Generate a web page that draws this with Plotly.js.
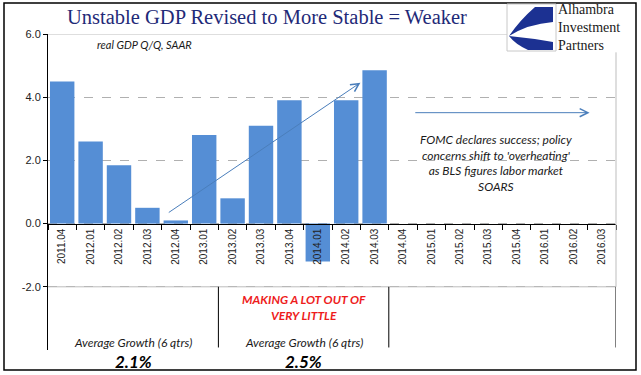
<!DOCTYPE html>
<html>
<head>
<meta charset="utf-8">
<script src="https://cdn.plot.ly/plotly-3.0.1.min.js"></script>
<style>html,body{margin:0;padding:0;background:#fff;}#chart{width:641px;height:375px;}</style>
</head>
<body>
<div id="chart"></div>
<script>
// ---- data ----
const quarters = ['2011.04','2012.01','2012.02','2012.03','2012.04','2013.01','2013.02','2013.03','2013.04','2014.01',
                  '2014.02','2014.03','2014.04','2015.01','2015.02','2015.03','2015.04','2016.01','2016.02','2016.03'];
const gdpQoQ = [4.5, 2.6, 1.85, 0.5, 0.1, 2.8, 0.8, 3.1, 3.9, -1.2, 3.9, 4.85,
                null, null, null, null, null, null, null, null];
const yTickVals = [-2, 0, 2, 4, 6];
const yTickText = ['-2.0', '0.0', '2.0', '4.0', '6.0'];
const avgGrowth = ['2.1%', '2.5%'];

// ---- layout helpers (pixel -> paper) ----
const W = 641, H = 375, ML = 48, MR = 25, MT = 34, MB = 25;
const PW = W - ML - MR, PH = H - MT - MB;
const px = p => (p - ML) / PW;
const py = q => (H - MB - q) / PH;
// category index -> paper x
const cx = i => (i + 0.5) / quarters.length;

const navy = '#1c3192';
const logoUpper = `M${px(535)},${py(7)} L${px(553)},${py(7)} L${px(553)},${py(22)} Q${px(528)},${py(24)} ${px(509)},${py(36)} Q${px(520)},${py(20)} ${px(535)},${py(7)} Z`;
const logoLower = `M${px(509)},${py(36)} Q${px(530)},${py(38)} ${px(553)},${py(42)} L${px(553)},${py(50)} L${px(528)},${py(50)} Q${px(515)},${py(44)} ${px(509)},${py(36)} Z`;

const trace = {
  type: 'bar', x: quarters, y: gdpQoQ,
  marker: {color: '#558ed5'}, hoverinfo: 'skip'
};

const itFont = {family: 'Lato, "Liberation Sans", sans-serif', size: 12, color: '#1a1a1a', style: 'italic'};

const layout = {
  width: W, height: H,
  margin: {l: ML, r: MR, t: MT, b: MB},
  paper_bgcolor: '#fff', plot_bgcolor: '#fff',
  showlegend: false,
  bargap: 0.14,
  title: {
    text: 'Unstable GDP Revised to More Stable = Weaker',
    x: 267 / W, xanchor: 'center', y: 1 - 17 / H, yanchor: 'middle',
    font: {family: '"Liberation Serif", "DejaVu Serif", serif', size: 20.5, color: '#1f2a78'}
  },
  xaxis: {
    type: 'category', categoryorder: 'array', categoryarray: quarters,
    range: [-0.5, 19.5], anchor: 'free', position: 0.4,
    showline: true, linecolor: '#000', linewidth: 1,
    ticks: 'outside', tickson: 'boundaries', ticklen: 5, tickcolor: '#000',
    tickangle: -90, tickfont: {family: '"Liberation Sans", Arial, sans-serif', size: 10, color: '#222'},
    showgrid: false, zeroline: false, fixedrange: true
  },
  yaxis: {
    range: [-4, 6], tickvals: yTickVals, ticktext: yTickText,
    showline: true, linecolor: '#000', linewidth: 1,
    ticks: 'outside', ticklen: 4, tickcolor: '#000',
    tickfont: {family: '"Liberation Sans", Arial, sans-serif', size: 11, color: '#222'},
    showgrid: true, gridcolor: '#b0b0b0', griddash: 'dash', gridwidth: 1,
    zeroline: false, fixedrange: true
  },
  shapes: [
    {type: 'line', xref: 'paper', yref: 'y', x0: 0, x1: px(508), y0: 6, y1: 6, line: {color: '#bdbdbd', width: 1}, layer: 'above'},
    {type: 'line', xref: 'paper', yref: 'y', x0: 0, x1: 1, y0: -2, y1: -2, line: {color: '#bdbdbd', width: 1}, layer: 'above'},
    {type: 'line', xref: 'paper', yref: 'y', x0: 1, x1: 1, y0: -2, y1: 5.42, line: {color: '#bdbdbd', width: 1}, layer: 'above'},
    {type: 'line', xref: 'x', yref: 'y', x0: 5.5, x1: 5.5, y0: -2, y1: -3.92, line: {color: '#000', width: 1}},
    {type: 'line', xref: 'x', yref: 'y', x0: 11.5, x1: 11.5, y0: -2, y1: -3.92, line: {color: '#000', width: 1}},
    {type: 'line', xref: 'x', yref: 'y', x0: 19.5, x1: 19.5, y0: -2, y1: -3.92, line: {color: '#000', width: 1}},
    {type: 'rect', xref: 'paper', yref: 'paper', x0: px(4), x1: px(636), y0: py(3), y1: py(370), line: {color: '#000', width: 1.5}},
    {type: 'rect', xref: 'paper', yref: 'paper', x0: px(507), x1: px(556), y0: py(4), y1: py(51), line: {color: '#c8c8c8', width: 1}, fillcolor: '#fff', layer: 'above'},
    {type: 'path', xref: 'paper', yref: 'paper', path: logoUpper, fillcolor: navy, line: {width: 0}, layer: 'above'},
    {type: 'path', xref: 'paper', yref: 'paper', path: logoLower, fillcolor: navy, line: {width: 0}, layer: 'above'}
  ],
  annotations: [
    {xref: 'x', yref: 'y', x: 2.9, y: 5.66, text: 'real GDP Q/Q, SAAR', showarrow: false, font: {...itFont, size: 11}},
    {xref: 'x', yref: 'y', x: 15.26, y: 1.93,
     text: "FOMC declares success; policy<br>concerns shift to 'overheating'<br>as BLS figures labor market<br>SOARS",
     showarrow: false, align: 'center', font: itFont},
    {xref: 'x', yref: 'y', x: 8.5, y: -2.66, text: '<b>MAKING A LOT OUT OF<br>VERY LITTLE</b>',
     showarrow: false, align: 'center', font: {...itFont, color: '#ee1c1c'}},
    {xref: 'x', yref: 'y', x: 2.5, y: -3.77, text: 'Average Growth (6 qtrs)', showarrow: false, font: itFont},
    {xref: 'x', yref: 'y', x: 8.5, y: -3.77, text: 'Average Growth (6 qtrs)', showarrow: false, font: itFont},
    {xref: 'paper', yref: 'paper', x: cx(2.5), y: py(361), xanchor: 'center', yanchor: 'middle', text: '<b>' + avgGrowth[0] + '</b>', showarrow: false, font: {...itFont, size: 17, color: '#000'}},
    {xref: 'paper', yref: 'paper', x: cx(8.5), y: py(361), xanchor: 'center', yanchor: 'middle', text: '<b>' + avgGrowth[1] + '</b>', showarrow: false, font: {...itFont, size: 17, color: '#000'}},
    {xref: 'x', yref: 'y', axref: 'x', ayref: 'y', x: 10.5, y: 4.46, ax: 3.7, ay: 0.32, text: '',
     showarrow: true, arrowhead: 5, arrowsize: 1.6, arrowwidth: 1, arrowcolor: '#4a7ebb', standoff: 0, startstandoff: 0},
    {xref: 'x', yref: 'y', axref: 'x', ayref: 'y', x: 18.57, y: 3.51, ax: 12.38, ay: 3.51, text: '',
     showarrow: true, arrowhead: 5, arrowsize: 1.6, arrowwidth: 1, arrowcolor: '#4a7ebb', standoff: 0, startstandoff: 0},
    {xref: 'paper', yref: 'paper', x: px(556), y: py(27), xanchor: 'left', yanchor: 'middle', align: 'left',
     text: 'Alhambra<br>Investment<br>Partners', showarrow: false,
     font: {family: '"Liberation Serif", serif', size: 14, color: '#1a1a1a'}}
  ]
};

Plotly.newPlot('chart', [trace], layout, {staticPlot: true, displayModeBar: false});
</script>
</body>
</html>
